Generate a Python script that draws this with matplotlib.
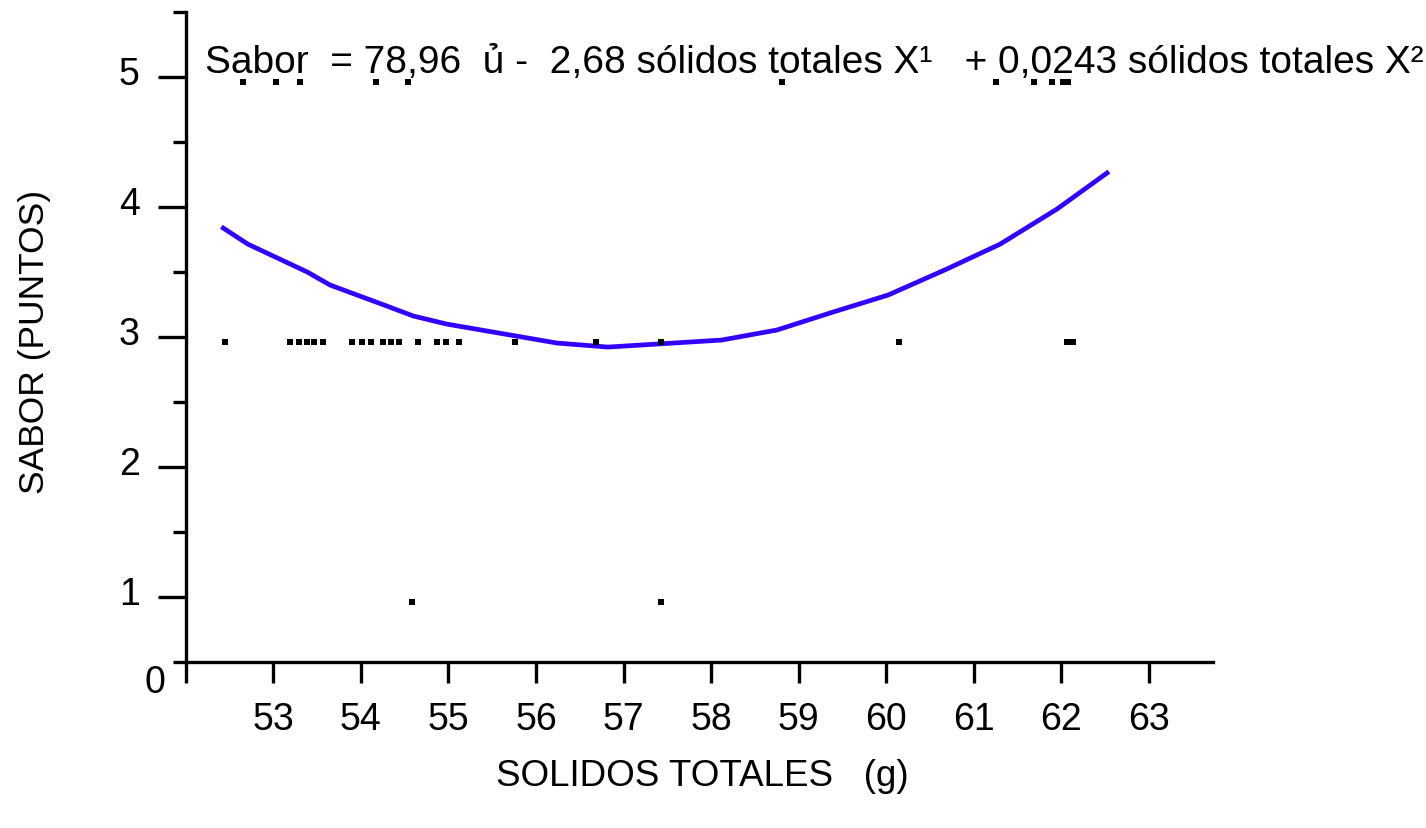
import matplotlib
matplotlib.use("Agg")
import matplotlib.pyplot as plt
import matplotlib.transforms as mtransforms
import numpy as np

plt.rcParams['font.family'] = ['Liberation Sans', 'DejaVu Sans']

# puntos observados (sabor vs solidos totales)
x_sabor5 = [52.655, 53.03, 53.31, 54.17, 54.54, 58.81, 61.25, 61.69, 61.89, 62.02, 62.08]
x_sabor3 = [52.45, 53.19, 53.29, 53.39, 53.47, 53.57, 53.90, 54.01, 54.12, 54.25,
            54.34, 54.44, 54.65, 54.87, 54.97, 55.12, 55.76, 56.68, 57.43, 60.15,
            62.06, 62.13]
x_sabor1 = [54.58, 57.43]

# curva ajustada
curve_x = [52.43, 52.71, 53.39, 53.65, 54.30, 54.60, 54.98, 56.24, 56.82, 58.12,
           58.75, 59.39, 60.02, 60.69, 61.30, 61.95, 62.52]
curve_y = [3.838, 3.715, 3.50, 3.40, 3.238, 3.162, 3.10, 2.954, 2.923, 2.977,
           3.054, 3.192, 3.323, 3.523, 3.715, 3.985, 4.262]

xticks = [52, 53, 54, 55, 56, 57, 58, 59, 60, 61, 62, 63]
xticklabels = [''] + [str(v) for v in xticks[1:]]
yticks = [1, 2, 3, 4, 5]

equation = "Sabor  = 78,96  ủ -  2,68 sólidos totales X¹   + 0,0243 sólidos totales X²"

fig = plt.figure(figsize=(14.26, 8.29), dpi=100)
ax = fig.add_axes([0.1302, 0.2002, 0.8506 - 0.1302, 0.784])

ax.plot(curve_x, curve_y, color='#3300ff', lw=3.4, solid_joinstyle='round', zorder=3)

# marcadores ligeramente desplazados hacia abajo como en el original
off = ax.transData + mtransforms.ScaledTranslation(0, -0.045, fig.dpi_scale_trans)
for xs, yv in [(x_sabor5, 5), (x_sabor3, 3), (x_sabor1, 1)]:
    ax.plot(xs, [yv] * len(xs), 's', color='black', ms=3.8, mew=0,
            transform=off, zorder=4)

ax.set_xlim(52, 63.73)
ax.set_ylim(0.5, 5.5)

for s in ['top', 'right']:
    ax.spines[s].set_visible(False)
for s in ['left', 'bottom']:
    ax.spines[s].set_linewidth(2.4)

ax.set_xticks(xticks)
ax.set_xticklabels(xticklabels, fontsize=27)
ax.set_yticks(yticks)
ax.set_yticklabels([str(v) for v in yticks], fontsize=27)
ax.set_yticks(np.arange(0.5, 5.6, 1.0), minor=True)
ax.tick_params(axis='x', direction='out', length=15, width=2.4, pad=13)
ax.tick_params(axis='y', which='major', direction='out', length=20, width=2.4, pad=13)
ax.tick_params(axis='y', which='minor', direction='out', length=9.5, width=2.4)

lift = mtransforms.ScaledTranslation(0, 0.07, fig.dpi_scale_trans)
for lab in ax.get_yticklabels():
    lab.set_transform(lab.get_transform() + lift)

ax.text(-0.02, -0.03, '0', transform=ax.transAxes, fontsize=27,
        ha='right', va='center')

ax.text(52.22, 5.04, equation, fontsize=28, ha='left', va='baseline',
        clip_on=False)

fig.text(702 / 1426, 1 - 777 / 829, 'SOLIDOS TOTALES   (g)', fontsize=26.5,
         ha='center', va='center')
fig.text(35 / 1426, 1 - 342 / 829, 'SABOR (PUNTOS)', fontsize=25.5,
         ha='center', va='center', rotation=90)

fig.savefig('out.png', dpi=100)
